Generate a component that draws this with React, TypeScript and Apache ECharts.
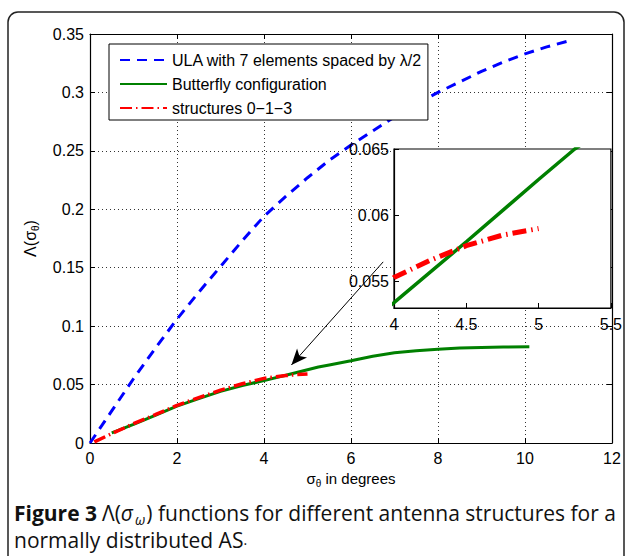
import React, { useEffect, useRef } from "react";
import * as echarts from "echarts";

// ---- Data ----
const ulaX = [0, 0.5, 1, 1.5, 2, 2.5, 3, 3.5, 4, 4.5, 5, 5.5, 6, 6.5, 7, 7.5, 8, 8.5, 9, 9.5, 10, 10.5, 11.1];
const ulaY = [0, 0.0275, 0.055, 0.081, 0.106, 0.129, 0.151, 0.173, 0.194, 0.211, 0.227, 0.242, 0.255, 0.267, 0.279, 0.29, 0.3, 0.309, 0.318, 0.326, 0.333, 0.339, 0.345];

const butterflyX = [0.5, 1, 1.5, 2, 2.5, 3, 3.5, 4, 4.5, 5, 5.25, 5.5, 6, 6.5, 7, 7.5, 8, 8.5, 9, 9.5, 10.1];
const butterflyY = [0.0086, 0.016, 0.0237, 0.0315, 0.038, 0.0442, 0.0492, 0.0534, 0.058, 0.0627, 0.065, 0.0668, 0.0704, 0.0742, 0.0772, 0.079, 0.0802, 0.0812, 0.0818, 0.0822, 0.0824];

const structX = [0.1, 0.5, 1, 1.5, 2, 2.5, 3, 3.5, 4, 4.25, 4.5, 4.75, 5];
const structY = [0.001, 0.008, 0.0165, 0.0242, 0.0322, 0.0388, 0.0452, 0.0507, 0.0553, 0.0566, 0.0577, 0.0585, 0.059];

const seriesNames = ["ULA with 7 elements spaced by \u03bb/2", "Butterfly configuration", "structures 0\u22121\u22123"];

const xTicksMain = { min: 0, max: 12, interval: 2 };
const yTicksMain = { min: 0, max: 0.35, interval: 0.05 };
const xTicksInset = { min: 4, max: 5.5, interval: 0.5 };
const yInsetRange = { min: 0.053, max: 0.065 };
const yInsetTicks = [0.055, 0.06, 0.065];

// arrow annotation (data coordinates): from tail to head
const arrowFrom = [6.74, 0.155];
const arrowTo = [4.63, 0.0668];

const zip = (xs: number[], ys: number[]) => xs.map((x, i) => [x, ys[i]]);

const FONT = "'Liberation Sans', Arial, Helvetica, sans-serif";
const CAP = "'Open Sans', sans-serif";

export default function App() {
  const ref = useRef<HTMLDivElement>(null);
  useEffect(() => {
    if (!ref.current) return;
    const chart = echarts.init(ref.current, null, { renderer: "svg" });

    const blue = "#0000ff";
    const green = "#008000";
    const red = "#ff0000";

    const dotted = { show: true, lineStyle: { color: "#333", width: 1, type: [1, 3] as any } };
    const tickIn = { show: true, inside: true, length: 5, lineStyle: { color: "#000", width: 1 } };
    const axLine = { show: true, onZero: false, lineStyle: { color: "#000", width: 1.2 } };
    const label = { color: "#000", fontSize: 16, fontFamily: FONT };
    const capBase = { fontFamily: CAP, color: "#111", fontWeight: "normal", lineHeight: 27 };

    const option: any = {
      animation: false,
      backgroundColor: "#fff",
      textStyle: { fontFamily: FONT },
      title: {
        left: 9,
        top: 494,
        text:
          "{b|Figure 3} {n|\u039b(}{i|\u03c3}{w|\u03c9}{n|) functions for different antenna structures for a}\n{n|normally distributed AS}{p|.}",
        textStyle: {
          fontWeight: "normal",
          rich: {
            b: { ...capBase, fontSize: 21, fontWeight: "bold" },
            n: { ...capBase, fontSize: 21 },
            i: { ...capBase, fontSize: 21, fontStyle: "italic", padding: [0, 1, 0, 0] },
            w: { ...capBase, fontSize: 14, fontStyle: "italic", lineHeight: 21, verticalAlign: "bottom", padding: [0, 1, 0, 1] },
            p: { ...capBase, fontSize: 14 },
          },
        },
      },
      graphic: [
        {
          type: "rect",
          silent: true,
          z: -10,
          shape: { x: 8, y: 12, width: 616, height: 600, r: 10 },
          style: { fill: "none", stroke: "#222", lineWidth: 1.5 },
        },
      ],
      legend: {
        data: seriesNames,
        orient: "vertical",
        left: 109,
        top: 44,
        itemWidth: 47,
        itemHeight: 14,
        itemGap: 8,
        padding: [8, 6, 4, 10],
        backgroundColor: "#fff",
        borderColor: "#000",
        borderWidth: 1,
        itemStyle: { opacity: 0 },
        textStyle: { fontSize: 16, color: "#000", fontFamily: FONT },
        selectedMode: false,
        z: 6,
      },
      grid: [
        { left: 90, top: 34, width: 522, height: 409, show: false },
        { left: 394, top: 149, width: 218, height: 159, show: true, backgroundColor: "#fff", borderColor: "#000", borderWidth: 1.2, z: 1 },
      ],
      xAxis: [
        {
          type: "value", gridIndex: 0, ...xTicksMain,
          axisLine: axLine, axisTick: tickIn, splitLine: dotted,
          axisLabel: { ...label, margin: 7 },
          name: "{s|\u03c3}{sub|\u03b8}{n| in degrees}",
          nameLocation: "middle", nameGap: 22,
          nameTextStyle: {
            rich: {
              s: { fontSize: 15, color: "#000", fontFamily: FONT, lineHeight: 20 },
              sub: { fontSize: 10, color: "#000", fontFamily: FONT, lineHeight: 10, verticalAlign: "bottom" },
              n: { fontSize: 15, color: "#000", fontFamily: FONT, lineHeight: 20 },
            },
          },
        },
        {
          type: "value", gridIndex: 0, position: "top", ...xTicksMain,
          axisLine: axLine, axisTick: tickIn, splitLine: { show: false }, axisLabel: { show: false },
        },
        {
          type: "value", gridIndex: 1, ...xTicksInset, z: 3,
          axisLine: axLine, axisTick: tickIn, splitLine: { show: false },
          axisLabel: { ...label, margin: 8 },
        },
      ],
      yAxis: [
        {
          type: "value", gridIndex: 0, ...yTicksMain,
          axisLine: axLine, axisTick: tickIn, splitLine: dotted,
          axisLabel: { ...label, margin: 6 },
          name: "{n|\u039b(\u03c3}{sub|\u03b8}{n|)}",
          nameLocation: "middle", nameGap: 50, nameRotate: 90,
          nameTextStyle: {
            rich: {
              n: { fontSize: 16, color: "#000", fontFamily: FONT, lineHeight: 20 },
              sub: { fontSize: 10, color: "#000", fontFamily: FONT, lineHeight: 10, verticalAlign: "bottom" },
            },
          },
        },
        {
          type: "value", gridIndex: 0, position: "right", ...yTicksMain,
          axisLine: axLine, axisTick: tickIn, splitLine: { show: false }, axisLabel: { show: false },
        },
        {
          type: "value", gridIndex: 1, ...yInsetRange, z: 3,
          axisLine: axLine,
          axisTick: { ...tickIn, customValues: yInsetTicks },
          splitLine: { show: false },
          axisLabel: { ...label, margin: 5, customValues: yInsetTicks },
        },
      ],
      series: [
        {
          name: seriesNames[0], type: "line", xAxisIndex: 0, yAxisIndex: 0,
          data: zip(ulaX, ulaY), symbol: "none", smooth: false, z: 2,
          lineStyle: { color: blue, width: 3, type: [10, 7] },
          itemStyle: { color: blue },
        },
        {
          name: seriesNames[1], type: "line", xAxisIndex: 0, yAxisIndex: 0,
          data: zip(butterflyX, butterflyY), symbol: "none", z: 2,
          lineStyle: { color: green, width: 3, type: "solid" },
          itemStyle: { color: green },
          markLine: {
            silent: true,
            symbol: ["none", "arrow"],
            symbolSize: [10, 16],
            label: { show: false },
            lineStyle: { color: "#000", width: 1, type: "solid" },
            emphasis: { disabled: true },
            data: [[{ coord: arrowFrom }, { coord: arrowTo }]],
          },
        },
        {
          name: seriesNames[2], type: "line", xAxisIndex: 0, yAxisIndex: 0,
          data: zip(structX, structY), symbol: "none", z: 3,
          lineStyle: { color: red, width: 3.5, type: [12, 4, 1.5, 4] },
          itemStyle: { color: red },
        },
        {
          name: seriesNames[1], type: "line", xAxisIndex: 2, yAxisIndex: 2,
          data: zip(butterflyX, butterflyY), symbol: "none", z: 5, clip: true,
          lineStyle: { color: green, width: 3.5, type: "solid" },
          itemStyle: { color: green },
        },
        {
          name: seriesNames[2], type: "line", xAxisIndex: 2, yAxisIndex: 2,
          data: zip(structX, structY), symbol: "none", z: 6, clip: true,
          lineStyle: { color: red, width: 5, type: [14, 5, 1.5, 5] },
          itemStyle: { color: red },
        },
      ],
    };
    chart.setOption(option);
    return () => chart.dispose();
  }, []);
  return (
    <div
      ref={ref}
      style={{ position: "absolute", left: 0, top: 0, width: 625, height: 556 }}
    />
  );
}
